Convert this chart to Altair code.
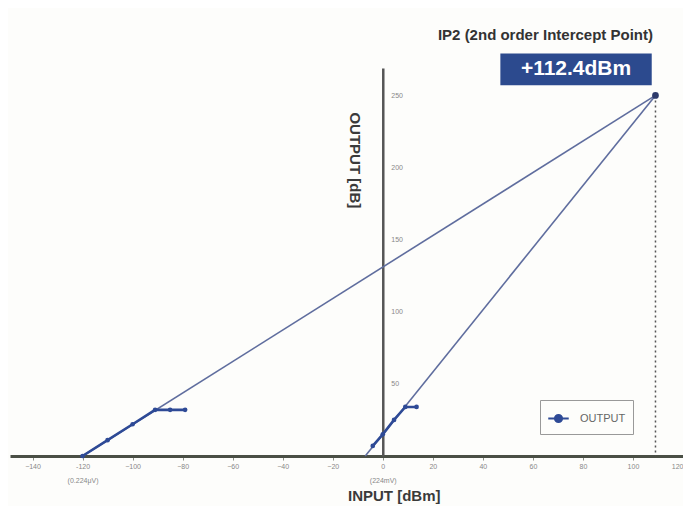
import altair as alt
import pandas as pd

# --- data ---
fund_x = [-120, 109]
fund_y = [0, 250]
second_x = [-7, 109]
second_y = [0, 250]
left_x = [-120, -110, -100, -91, -85, -79]
left_y = [0, 11, 22, 32, 32, 32]
right_x = [-4, 0, 4.5, 9, 13.5]
right_y = [7, 15, 25, 34, 34]
ip_x = [109]
ip_y = [250]
x_ticks = [-140, -120, -100, -80, -60, -40, -20, 0, 20, 40, 60, 80, 100, 120]
y_ticks = [50, 100, 150, 200, 250]
ip_label = "+112.4dBm"
chart_title = "IP2 (2nd order Intercept Point)"

W, H = 673, 388
XD = [-149, 120]
YD = [0, 269]
x0_px = (0 - XD[0]) / (XD[1] - XD[0]) * W

FONT = "Liberation Sans"
xs = alt.Scale(domain=XD, nice=False, zero=False)
ys = alt.Scale(domain=YD, nice=False, zero=False)

ext = pd.DataFrame({
    "x": fund_x + second_x,
    "y": fund_y + second_y,
    "g": ["fund"] * 2 + ["second"] * 2,
})
meas = pd.DataFrame({
    "x": left_x + right_x,
    "y": left_y + right_y,
    "grp": ["L"] * len(left_x) + ["R"] * len(right_x),
    "s": ["OUTPUT"] * (len(left_x) + len(right_x)),
})
drop = pd.DataFrame({"x": ip_x * 2, "y": [ip_y[0], 0]})
ipd = pd.DataFrame({"x": ip_x, "y": ip_y})

x_axis = alt.Axis(
    values=x_ticks,
    title="INPUT [dBm]",
    titleFont=FONT, titleFontSize=15, titleFontWeight="bold", titleColor="#3a3a3a",
    titleX=x0_px + 11, titleY=39, titleBaseline="middle",
    labelFont=FONT, labelFontSize=7, labelColor="#888",
    labelExpr="datum.value == -120 ? ['-120', '(0.224\u03bcV)'] : datum.value == 0 ? ['0', '(224mV)'] : datum.label",
    labelLineHeight=14,
    domainColor="#4a4f45", domainWidth=3,
    tickColor="#8a8f85", tickSize=4, tickWidth=1,
    grid=False,
)
y_axis = alt.Axis(
    values=y_ticks,
    orient="right",
    offset=-(W - x0_px),
    title=None,
    labelFont=FONT, labelFontSize=7, labelColor="#888", labelPadding=8,
    domainColor="#555", domainWidth=2.5,
    ticks=False, grid=False,
)

base_ext = alt.Chart(ext).mark_line(color="#5f6d9e", strokeWidth=1.6).encode(
    x=alt.X("x:Q", scale=xs, axis=x_axis),
    y=alt.Y("y:Q", scale=ys, axis=y_axis),
    detail="g:N",
)

dotted = alt.Chart(drop).mark_line(color="#555", strokeDash=[2, 3], strokeWidth=1.5).encode(
    x=alt.X("x:Q", scale=xs), y=alt.Y("y:Q", scale=ys)
)

meas_line = alt.Chart(meas).mark_line(strokeWidth=2.6, point=alt.OverlayMarkDef(filled=True, size=22)).encode(
    x=alt.X("x:Q", scale=xs),
    y=alt.Y("y:Q", scale=ys),
    detail="grp:N",
    color=alt.Color(
        "s:N",
        scale=alt.Scale(domain=["OUTPUT"], range=["#2e4a96"]),
        legend=alt.Legend(
            title=None, orient="none", legendX=530, legendY=332,
            strokeColor="#999", padding=7, fillColor="#fdfdfb",
            labelFont=FONT, labelFontSize=11, labelColor="#666", labelOffset=10,
            symbolType="M-1,0H1M-0.35,0a0.35,0.35 0 1,0 0.7,0a0.35,0.35 0 1,0 -0.7,0",
            symbolSize=420, symbolStrokeWidth=2, symbolFillColor="#2e4a96",
        ),
    ),
)

ip_pt = alt.Chart(ipd).mark_point(filled=True, size=45, color="#2d3a6a", opacity=1).encode(
    x=alt.X("x:Q", scale=xs), y=alt.Y("y:Q", scale=ys)
)

# annotations placed in data coordinates relative to the intercept point
ann = pd.DataFrame({
    "x": [ip_x[0] - 1],
    "y": [ip_y[0] + 42],
    "t": [chart_title],
})
title_txt = alt.Chart(ann).mark_text(
    align="right", baseline="middle", font=FONT, fontSize=15, fontWeight="bold", color="#333"
).encode(x=alt.X("x:Q", scale=xs), y=alt.Y("y:Q", scale=ys), text="t:N")

box = pd.DataFrame({
    "x": [ip_x[0] - 62], "x2": [ip_x[0] - 1.5],
    "y": [ip_y[0] + 7], "y2": [ip_y[0] + 29],
})
box_rect = alt.Chart(box).mark_rect(color="#2c4a8e").encode(
    x=alt.X("x:Q", scale=xs), x2="x2:Q", y=alt.Y("y:Q", scale=ys), y2="y2:Q"
)
lab = pd.DataFrame({"x": [ip_x[0] - 31.75], "y": [ip_y[0] + 18], "t": [ip_label]})
box_txt = alt.Chart(lab).mark_text(
    align="center", baseline="middle", font=FONT, fontSize=21, fontWeight="bold", color="white"
).encode(x=alt.X("x:Q", scale=xs), y=alt.Y("y:Q", scale=ys), text="t:N")

ytitle = pd.DataFrame({"x": [-11], "y": [205], "t": ["OUTPUT [dB]"]})
ytitle_txt = alt.Chart(ytitle).mark_text(
    align="center", baseline="middle", angle=90, font=FONT, fontSize=15, fontWeight="bold", color="#3a3a3a"
).encode(x=alt.X("x:Q", scale=xs), y=alt.Y("y:Q", scale=ys), text="t:N")

chart = alt.layer(
    base_ext, dotted, meas_line, ip_pt, title_txt, box_rect, box_txt, ytitle_txt
).properties(
    width=W, height=H,
    autosize=alt.AutoSizeParams(type="none"),
    padding={"left": 2, "top": 60, "right": 0, "bottom": 50},
    background="#fdfdfb",
).configure_view(stroke=None)

chart.save("out.html", embed_options={"renderer": "svg", "actions": False})
